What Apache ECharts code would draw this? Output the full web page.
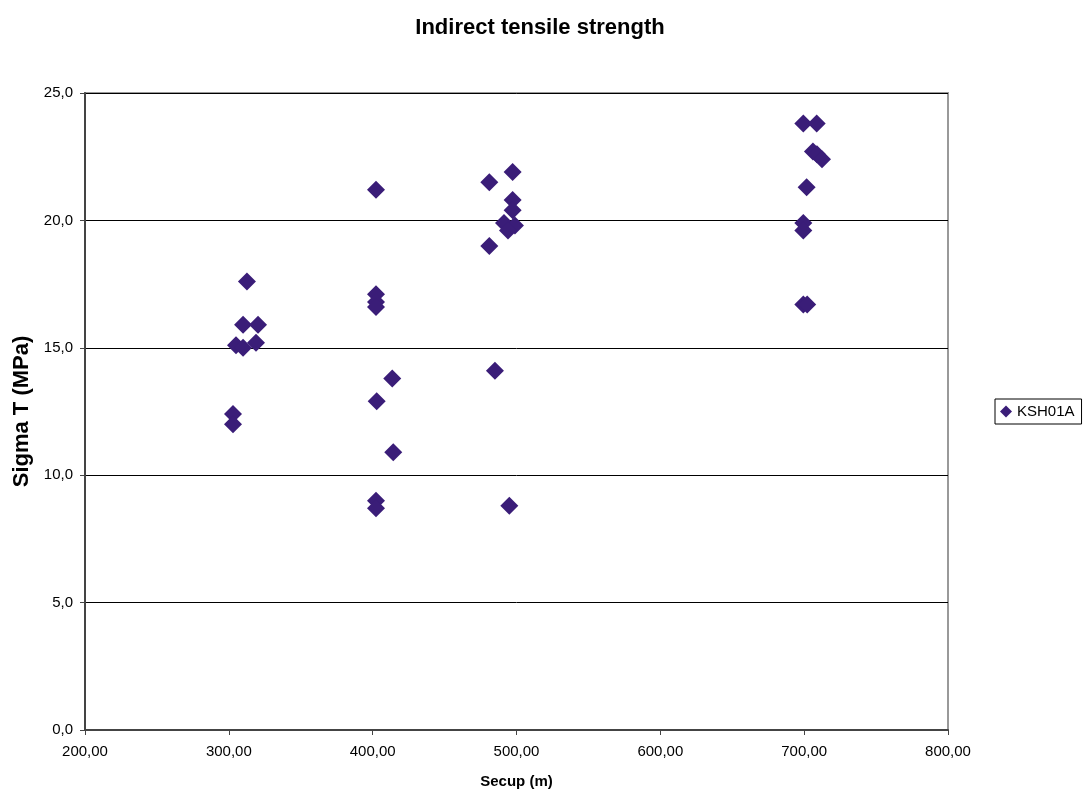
<!DOCTYPE html>
<html>
<head>
<meta charset="utf-8">
<script src="https://cdn.jsdelivr.net/npm/echarts@6/dist/echarts.min.js"></script>
<style>
  html, body { margin: 0; padding: 0; background: #fff; }
  #main { width: 1086px; height: 794px; }
</style>
</head>
<body>
<div id="main"></div>
<script>
// Secup (m) and Sigma T (MPa)
var secup = [
  312.6, 309.9, 320.3, 305.0, 309.9, 318.9, 302.9, 302.9,
  402.3, 402.3, 402.3, 402.3, 413.6, 402.8, 414.3, 402.3, 402.3,
  497.3, 481.1, 497.3, 497.3, 491.3, 498.9, 494.1, 481.1, 485.0, 495.0,
  699.4, 708.7, 706.1, 708.9, 712.4, 701.7, 699.4, 699.4, 699.4, 702.1
];
var sigma = [
  17.6, 15.9, 15.9, 15.1, 15.0, 15.2, 12.4, 12.0,
  21.2, 17.1, 16.8, 16.6, 13.8, 12.9, 10.9, 9.0, 8.7,
  21.9, 21.5, 20.8, 20.4, 19.9, 19.8, 19.6, 19.0, 14.1, 8.8,
  23.8, 23.8, 22.7, 22.6, 22.4, 21.3, 19.9, 19.6, 16.7, 16.7
];
var seriesName = "KSH01A";

var points = [];
for (var i = 0; i < secup.length; i++) {
  points.push([secup[i], sigma[i]]);
}

var chart = echarts.init(document.getElementById("main"));
var font = "'Liberation Sans', Arial, sans-serif";
var option = {
  backgroundColor: "#fff",
  animation: false,
  textStyle: { fontFamily: font },
  title: {
    text: "Indirect tensile strength",
    left: 535,
    textAlign: "center",
    top: 12,
    textStyle: { fontFamily: font, fontSize: 22, fontWeight: "bold", color: "#000" }
  },
  legend: {
    data: [seriesName],
    orient: "vertical",
    left: 995,
    top: 399,
    itemWidth: 12,
    itemHeight: 12,
    itemGap: 4,
    padding: [5, 7, 5, 5],
    borderColor: "#000",
    borderWidth: 1,
    textStyle: { fontFamily: font, fontSize: 15, color: "#000" }
  },
  grid: {
    left: 85,
    right: 138,
    top: 93,
    bottom: 62,
    show: true,
    borderColor: "#999",
    borderWidth: 2
  },
  xAxis: {
    type: "value",
    min: 200,
    max: 800,
    interval: 100,
    name: "Secup (m)",
    nameLocation: "middle",
    nameGap: 44,
    nameTextStyle: { fontFamily: font, fontSize: 15, fontWeight: "bold", color: "#000" },
    axisLine: { show: true, onZero: false, lineStyle: { color: "#444", width: 2 } },
    axisTick: { show: true, length: 5, lineStyle: { color: "#444" } },
    axisLabel: {
      color: "#000",
      fontSize: 15,
      margin: 14,
      formatter: function (v) { return v.toFixed(2).replace(".", ","); }
    },
    splitLine: { show: false }
  },
  yAxis: {
    type: "value",
    min: 0,
    max: 25,
    interval: 5,
    name: "Sigma T (MPa)",
    nameLocation: "middle",
    nameGap: 52,
    nameTextStyle: { fontFamily: font, fontSize: 22, fontWeight: "bold", color: "#000" },
    axisLine: { show: true, lineStyle: { color: "#444", width: 2 } },
    axisTick: { show: true, length: 5, lineStyle: { color: "#444" } },
    axisLabel: {
      color: "#000",
      fontSize: 15,
      margin: 12,
      formatter: function (v) { return v.toFixed(1).replace(".", ","); }
    },
    splitLine: { show: true, lineStyle: { color: "#000", width: 1 } }
  },
  series: [
    {
      name: seriesName,
      type: "scatter",
      symbol: "diamond",
      symbolSize: 18,
      itemStyle: { color: "#3a1d78", opacity: 1 },
      data: points
    }
  ]
};
chart.setOption(option);
</script>
</body>
</html>
